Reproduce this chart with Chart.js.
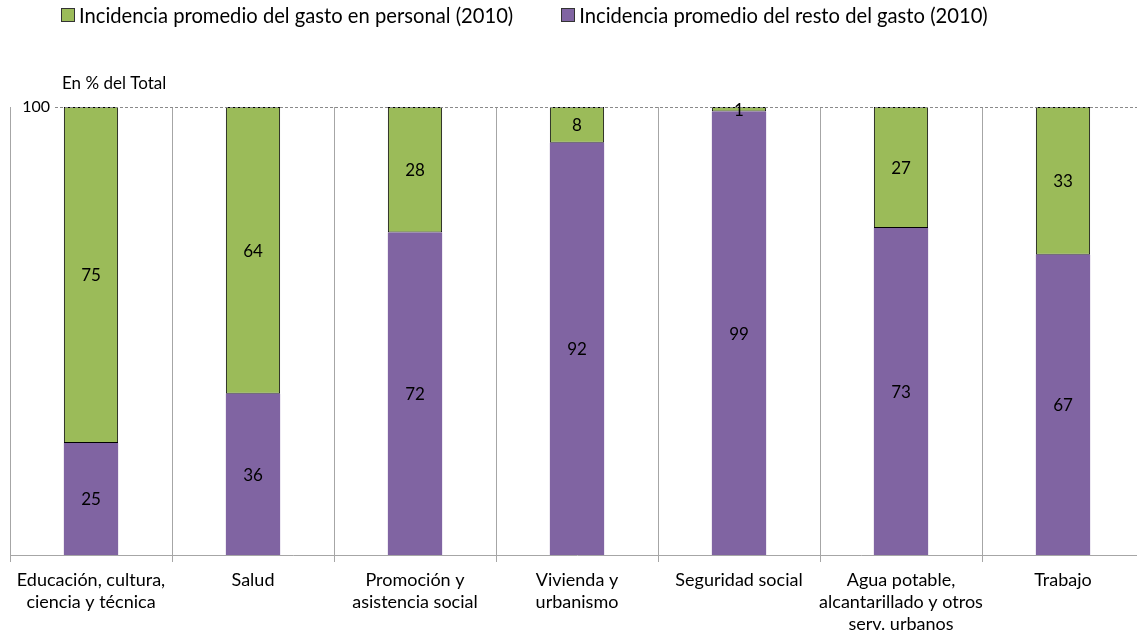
<!DOCTYPE html>
<html>
<head>
<meta charset="utf-8">
<script src="https://cdn.jsdelivr.net/npm/chart.js@4.4.1/dist/chart.umd.min.js"></script>
<style>
  html, body { margin: 0; padding: 0; background: #fff; overflow: hidden; }
  #wrap { position: relative; width: 1150px; height: 637px; }
  #leyenda { position: absolute; top: 3px; left: 61px; display: flex; font-family: Lato, sans-serif; font-size: 20.2px; color: #000; z-index: 2; }
  .item { display: flex; align-items: center; margin-right: 48px; }
  .caja { width: 12px; height: 12px; border: 1px solid #333; margin-right: 4px; }
</style>
</head>
<body>
<div id="wrap">
  <div id="leyenda"></div>
  <canvas id="grafico" width="1150" height="637"></canvas>
</div>
<script>
// Datos
const categorias = [
    ['Educación, cultura,', 'ciencia y técnica'],
    'Salud',
    ['Promoción y', 'asistencia social'],
    ['Vivienda y', 'urbanismo'],
    'Seguridad social',
    ['Agua potable,', 'alcantarillado y otros', 'serv. urbanos'],
    'Trabajo'
];
const restoGasto = [25, 36, 72, 92, 99, 73, 67];
const gastoPersonal = [75, 64, 28, 8, 1, 27, 33];
const ticksY = [100];

const etiquetaPersonal = 'Incidencia promedio del gasto en personal (2010)';
const etiquetaResto = 'Incidencia promedio del resto del gasto (2010)';

const verde = '#9BBB59';
const violeta = '#8064A2';

// Leyenda (verde primero)
const leyenda = document.getElementById('leyenda');
[[etiquetaPersonal, verde], [etiquetaResto, violeta]].forEach(([txt, col]) => {
    const it = document.createElement('div');
    it.className = 'item';
    it.innerHTML = '<div class="caja" style="background:' + col + '"></div><span>' + txt + '</span>';
    leyenda.appendChild(it);
});

// Etiquetas de valores, eje Y y línea de 100
const extras = {
    id: 'extras',
    afterDatasetsDraw(chart) {
        const ctx = chart.ctx;
        const y = chart.scales.y;
        const area = chart.chartArea;
        ctx.save();
        ctx.fillStyle = '#000';

        // línea punteada y tick
        ctx.font = '16px Lato, sans-serif';
        ticksY.forEach(v => {
            const py = y.getPixelForValue(v);
            ctx.strokeStyle = '#8a8a8a';
            ctx.lineWidth = 1;
            ctx.setLineDash([3, 2]);
            ctx.beginPath();
            ctx.moveTo(55, Math.round(py) + 0.5);
            ctx.lineTo(area.right, Math.round(py) + 0.5);
            ctx.stroke();
            ctx.setLineDash([]);
            ctx.textAlign = 'right';
            ctx.textBaseline = 'middle';
            ctx.fillText(String(v), 50, py);
        });

        ctx.font = '17px Lato, sans-serif';
        ctx.textAlign = 'left';
        ctx.textBaseline = 'middle';
        ctx.fillText('En % del Total', 62, 84);

        // valores
        ctx.textAlign = 'center';
        chart.data.datasets.forEach((ds, i) => {
            chart.getDatasetMeta(i).data.forEach((bar, j) => {
                const mid = (bar.y + bar.base) / 2;
                ctx.fillText(String(ds.data[j]), bar.x, mid + 1);
            });
        });
        ctx.restore();
    }
};

new Chart(document.getElementById('grafico'), {
    type: 'bar',
    data: {
        labels: categorias,
        datasets: [{
            label: etiquetaResto,
            data: restoGasto,
            backgroundColor: violeta,
            borderWidth: 0,
            barPercentage: 0.335,
            categoryPercentage: 1
        }, {
            label: etiquetaPersonal,
            data: gastoPersonal,
            backgroundColor: verde,
            borderColor: '#000',
            borderWidth: 1,
            borderSkipped: false,
            barPercentage: 0.335,
            categoryPercentage: 1
        }]
    },
    options: {
        responsive: false,
        animation: false,
        layout: { padding: { top: 107, left: 10, right: 6, bottom: 0 } },
        plugins: {
            legend: { display: false },
            tooltip: { enabled: false }
        },
        scales: {
            x: {
                stacked: true,
                offset: true,
                afterFit: s => { s.height = 82; },
                grid: {
                    offset: true,
                    color: '#a6a6a6',
                    tickLength: 7,
                    drawOnChartArea: true
                },
                border: { color: '#a6a6a6', width: 1 },
                ticks: {
                    color: '#000',
                    padding: 7,
                    maxRotation: 0,
                    autoSkip: false,
                    font: { family: 'Lato, sans-serif', size: 18, lineHeight: 1.22 }
                }
            },
            y: {
                stacked: true,
                display: false,
                min: 0,
                max: 100
            }
        }
    },
    plugins: [extras]
});
</script>
</body>
</html>
